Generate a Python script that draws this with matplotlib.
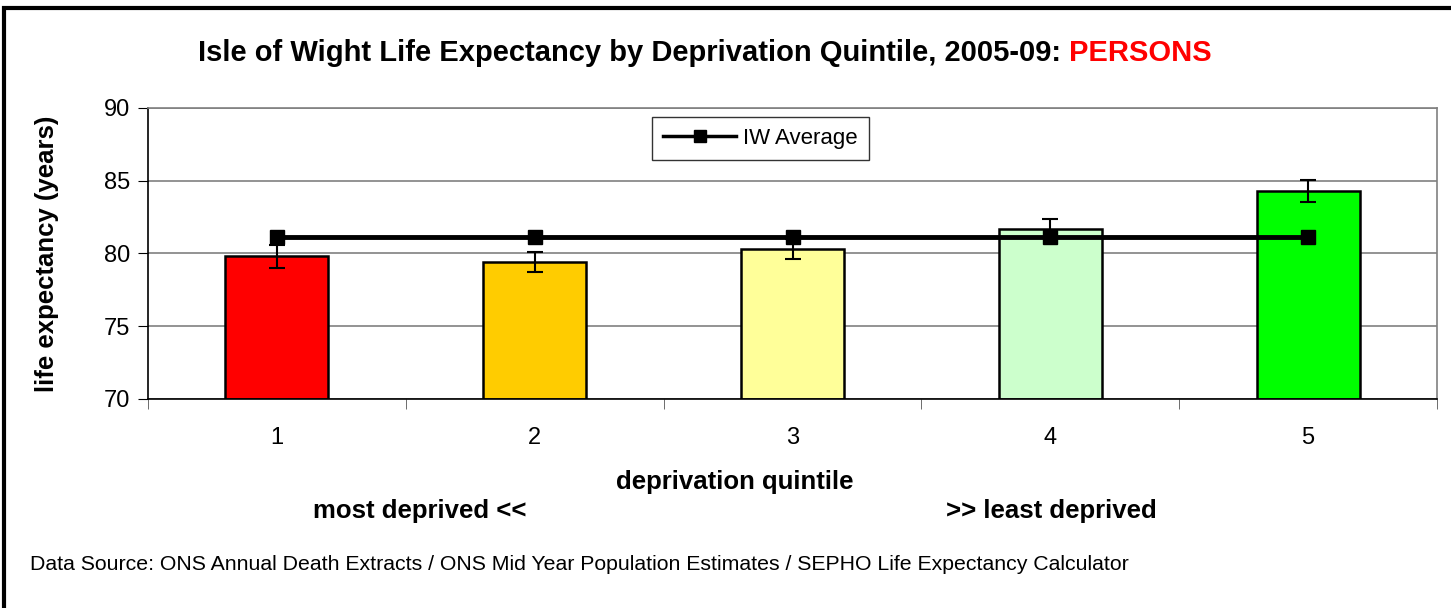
import matplotlib.pyplot as plt
from matplotlib.patches import Rectangle

plt.rcParams['font.family'] = ['Liberation Sans', 'DejaVu Sans']

quintiles = [1, 2, 3, 4, 5]
life_exp = [79.8, 79.4, 80.3, 81.7, 84.3]
ci_err = [0.8, 0.7, 0.7, 0.65, 0.75]
iw_average = [81.1, 81.1, 81.1, 81.1, 81.1]
bar_colors = ['#FF0000', '#FFCC00', '#FFFF99', '#CCFFCC', '#00FF00']

W, H = 1451, 608
fig = plt.figure(figsize=(W / 100, H / 100), dpi=100)
ax = fig.add_axes([148 / W, 1 - 399 / H, 1289 / W, 291 / H])

# outer chart border
fig.patches.append(Rectangle((4 / W, -0.05), 1.1, 1 - 8 / H + 0.05,
                             transform=fig.transFigure, fill=False,
                             edgecolor='black', linewidth=3))

ax.bar(quintiles, [v - 70 for v in life_exp], bottom=70, width=0.4,
       color=bar_colors, edgecolor='black', linewidth=1.8, zorder=2)
ax.errorbar(quintiles, life_exp, yerr=ci_err, fmt='none', ecolor='black',
            elinewidth=1.5, capsize=6, capthick=1.5, zorder=3)
ax.plot(quintiles, iw_average, color='black', linewidth=3.5, marker='s',
        markersize=10, label='IW Average', zorder=4)

ax.set_xlim(0.5, 5.5)
ax.set_ylim(70, 90)
ax.set_yticks([70, 75, 80, 85, 90])
ax.set_xticks(quintiles)
ax.set_xticks([0.5, 1.5, 2.5, 3.5, 4.5, 5.5], minor=True)
ax.tick_params(axis='x', which='major', length=0, pad=20, labelsize=17)
ax.tick_params(axis='x', which='minor', length=7, direction='out', color='#555555')
ax.tick_params(axis='y', length=7, direction='out', labelsize=17, pad=6)
ax.yaxis.grid(True, color='#808080', linewidth=1.2, zorder=0)
ax.set_axisbelow(True)
for side in ['top', 'right']:
    ax.spines[side].set_color('#808080')
    ax.spines[side].set_linewidth(1.2)
for side in ['left', 'bottom']:
    ax.spines[side].set_color('black')
    ax.spines[side].set_linewidth(1.2)

ax.set_ylabel('life expectancy (years)', fontsize=18.5, fontweight='bold')
ax.yaxis.set_label_coords(-(148 - 59) / 1289, 0.5)

leg = ax.legend(loc='upper left', bbox_to_anchor=(504 / 1289, 1 - 9 / 291),
                fontsize=16, frameon=True, fancybox=False, borderpad=0.5,
                handlelength=3.3, handletextpad=0.3, borderaxespad=0)
leg.get_frame().set_edgecolor('black')
leg.get_frame().set_linewidth(1.0)
leg.get_lines()[0].set_linewidth(2.5)
leg.get_lines()[0].set_markersize(8)

title_y = 1 - 53 / H
t = fig.text(198 / W, title_y, 'Isle of Wight Life Expectancy by Deprivation Quintile, 2005-09: ',
             fontsize=21, fontweight='bold', ha='left', va='center')
fig.canvas.draw()
bb = t.get_window_extent()
fig.text(bb.x1 / W, title_y, 'PERSONS', color='#FF0000',
         fontsize=21, fontweight='bold', ha='left', va='center')

fig.text(735 / W, 1 - 482 / H, 'deprivation quintile', fontsize=18.5,
         fontweight='bold', ha='center', va='center')
fig.text(420 / W, 1 - 511 / H, 'most deprived <<', fontsize=18.5,
         fontweight='bold', ha='center', va='center')
fig.text(1051 / W, 1 - 511 / H, '>> least deprived', fontsize=18.5,
         fontweight='bold', ha='center', va='center')
fig.text(30 / W, 1 - 565 / H,
         'Data Source: ONS Annual Death Extracts / ONS Mid Year Population Estimates / SEPHO Life Expectancy Calculator',
         fontsize=15.3, ha='left', va='center')

fig.savefig('out.png', dpi=100)
